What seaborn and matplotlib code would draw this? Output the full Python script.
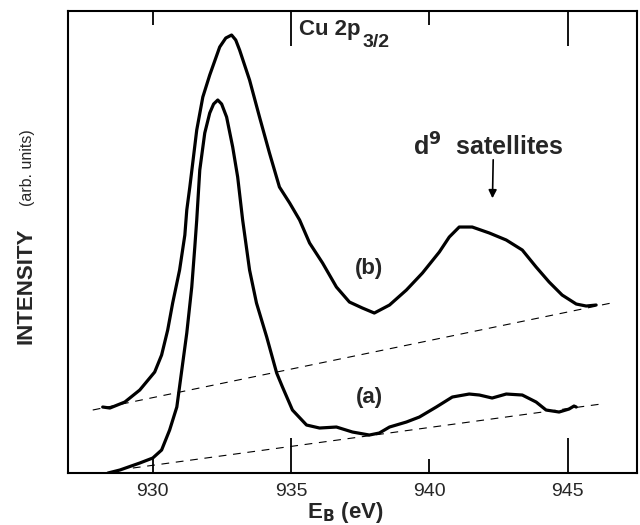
import matplotlib
matplotlib.use("Agg")
import matplotlib.pyplot as plt
import seaborn as sns
import pandas as pd

# binding energy (eV) and intensity (arb. units)
eb_b = [928.19, 928.45, 928.99, 929.53, 930.07, 930.32, 930.54, 930.72, 930.97, 931.16,
        931.23, 931.34, 931.59, 931.81, 932.06, 932.42, 932.64, 932.85, 933.00, 933.14,
        933.50, 933.86, 934.22, 934.58, 934.95, 935.31, 935.67, 936.14, 936.64, 937.11,
        937.58, 938.01, 938.56, 939.17, 939.75, 940.36, 940.72, 941.08, 941.55, 942.17,
        942.78, 943.36, 943.86, 944.33, 944.80, 945.31, 945.67, 946.03]
int_b = [66, 65, 71, 83, 101, 118, 143, 170, 203, 238,
         263, 286, 343, 376, 398, 426, 435, 438, 433, 423,
         393, 356, 320, 286, 270, 253, 230, 210, 186, 171,
         165, 160, 168, 183, 200, 221, 236, 246, 246, 240,
         233, 223, 206, 191, 178, 169, 167, 168]

eb_a = [928.38, 928.81, 929.53, 930.00, 930.32, 930.61, 930.87, 931.05, 931.23, 931.41,
        931.52, 931.59, 931.70, 931.88, 932.06, 932.20, 932.35, 932.49, 932.67, 932.89,
        933.07, 933.25, 933.50, 933.75, 934.12, 934.48, 934.69, 935.05, 935.56, 936.03,
        936.64, 937.22, 937.83, 938.19, 938.56, 939.17, 939.64, 940.25, 940.83, 941.44,
        941.81, 942.27, 942.78, 943.36, 943.86, 944.22, 944.69, 945.05, 945.23, 945.31]
int_a = [0, 3, 10, 15, 23, 43, 66, 103, 140, 186,
         226, 253, 303, 340, 360, 369, 373, 369, 356, 326,
         296, 253, 203, 170, 136, 100, 86, 63, 48, 45,
         46, 41, 38, 40, 46, 51, 56, 66, 76, 79,
         78, 75, 79, 78, 71, 63, 61, 64, 67, 66]

# background lines (dashed)
bg_b_x = [927.83, 946.75]
bg_b_y = [63, 171]
bg_a_x = [929.28, 946.21]
bg_a_y = [5, 69]

major_ticks = [935, 945]
minor_ticks = [930, 940]

sns.set_style("white")
plt.rcParams['font.family'] = ['Liberation Sans', 'DejaVu Sans']

df_b = pd.DataFrame({'EB': eb_b, 'I': int_b})
df_a = pd.DataFrame({'EB': eb_a, 'I': int_a})

fig = plt.figure(figsize=(6.4, 5.25), dpi=100)
ax = fig.add_axes([0.106, 0.099, 0.889, 0.880])

line_kw = dict(color='black', lw=2.3, estimator=None, sort=False, ax=ax,
               solid_joinstyle='round', solid_capstyle='round')
sns.lineplot(data=df_b, x='EB', y='I', **line_kw)
sns.lineplot(data=df_a, x='EB', y='I', **line_kw)
ax.plot(bg_b_x, bg_b_y, color='black', lw=0.8, ls=(0, (7, 6)))
ax.plot(bg_a_x, bg_a_y, color='black', lw=0.8, ls=(0, (7, 6)))

ax.set_xlim(926.93, 947.5)
ax.set_ylim(0, 462)
ax.set_yticks([])
ax.set_xticks(major_ticks, [str(t) for t in major_ticks])
ax.set_xticks(minor_ticks, [str(t) for t in minor_ticks], minor=True)
ax.tick_params(axis='x', which='both', direction='in', top=True, bottom=True,
               labelsize=14, pad=7, width=1.3, color='black')
ax.tick_params(axis='x', which='major', length=25)
ax.tick_params(axis='x', which='minor', length=10)
for s in ax.spines.values():
    s.set_linewidth(1.5)
    s.set_color('black')
ax.set_xlabel('')
ax.set_ylabel('')

# annotations
ax.text(935.3, 444, 'Cu 2p', fontsize=16, fontweight='bold', va='center', ha='left')
ax.text(937.6, 431, '3/2', fontsize=14, fontweight='bold', va='center', ha='left')
ax.text(939.4, 326, r'd$^{\mathbf{9}}$  satellites', fontsize=18, fontweight='bold', va='center', ha='left')
ax.annotate('', xy=(942.28, 272), xytext=(942.31, 316),
            arrowprops=dict(arrowstyle='-|>', color='black', lw=1.2, mutation_scale=12))
ax.text(937.83, 205, '(b)', fontsize=16, fontweight='bold', ha='center', va='center')
ax.text(937.83, 76, '(a)', fontsize=16, fontweight='bold', ha='center', va='center')

ax.text(0.487, -0.085, r'E$_{\mathbf{B}}$ (eV)', transform=ax.transAxes, fontsize=16,
        fontweight='bold', ha='center', va='center')
fig.text(0.040, 0.455, 'INTENSITY', rotation=90, fontsize=16, fontweight='bold', ha='center', va='center')
fig.text(0.043, 0.680, '(arb. units)', rotation=90, fontsize=11.5, ha='center', va='center')

fig.savefig('out.png', dpi=100)
